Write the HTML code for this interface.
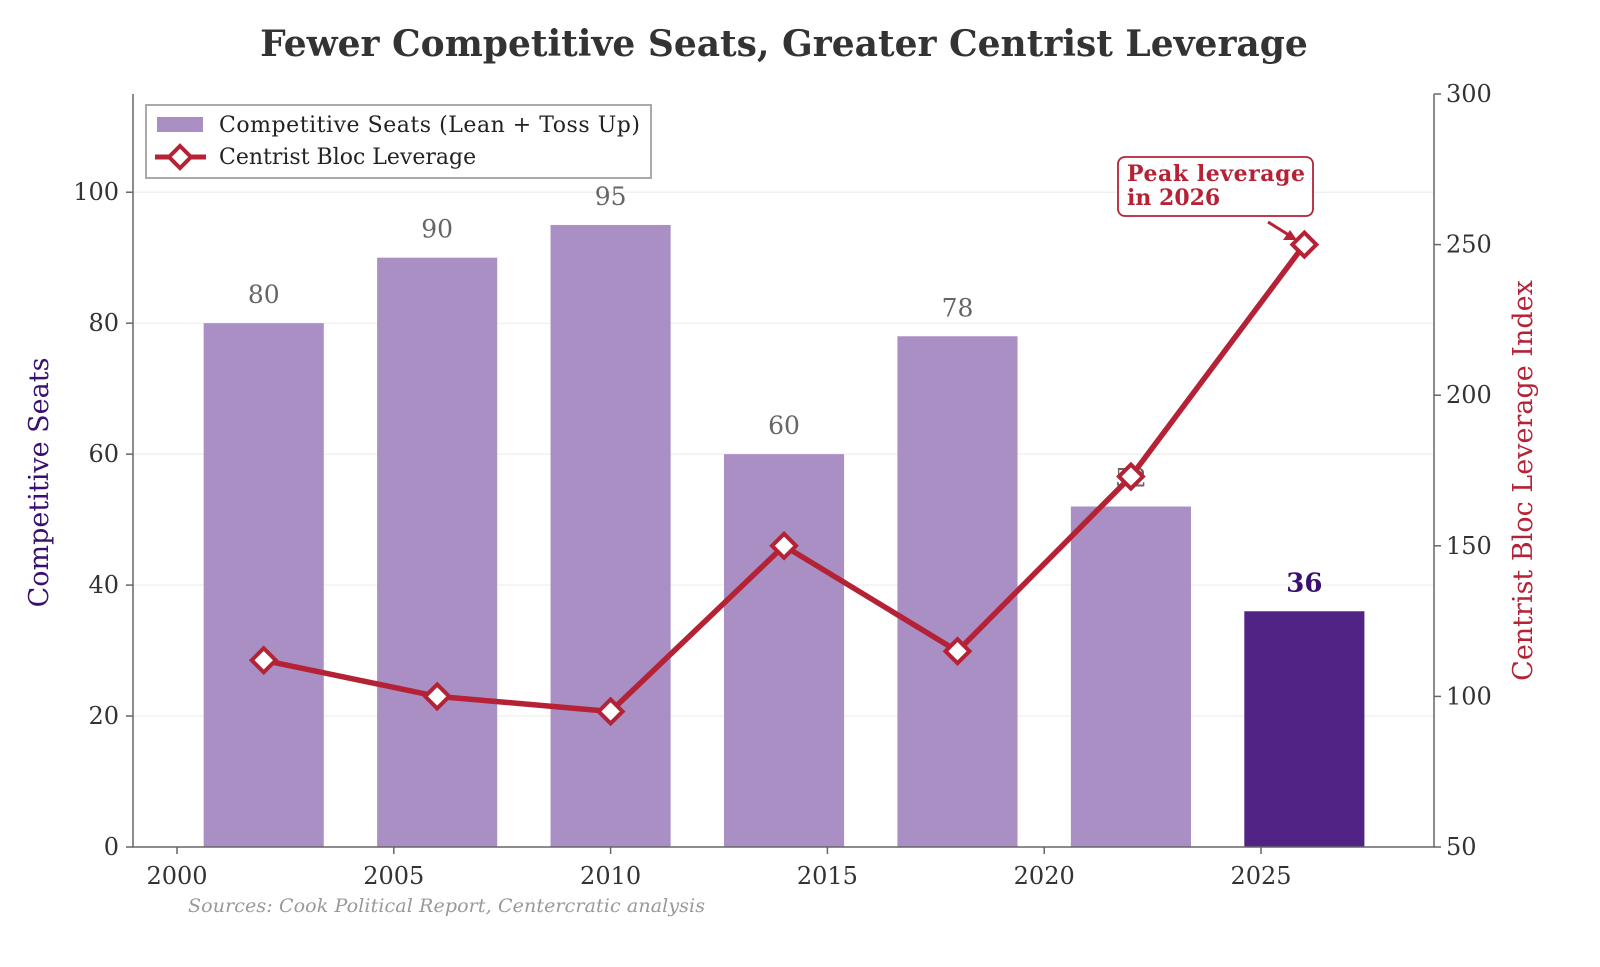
<!DOCTYPE html>
<html><head><meta charset="utf-8"><style>
body{margin:0;background:#fff}
svg{font-family:"DejaVu Serif","Liberation Serif",serif}
</style></head><body>
<svg id="c" width="1600" height="962" viewBox="0 0 1600 962" xmlns="http://www.w3.org/2000/svg"></svg>
<script>
const years=[2002,2006,2010,2014,2018,2022,2026];
const seats=[80,90,95,60,78,52,36];
const leverage=[112,100,95,150,115,173,250];
const xTicks=[2000,2005,2010,2015,2020,2025];
const yTicks=[0,20,40,60,80,100];
const y2Ticks=[50,100,150,200,250,300];

const L=133,R=1434,T=94,B=847;
const x=v=>177+(v-2000)*(1261-177)/25;
const y=v=>B-v*(B-T)/115;
const y2=v=>B-(v-50)*(B-T)/250;
const svg=document.getElementById('c');
const NS='http://www.w3.org/2000/svg';
function mk(tag,at,parent){const e=document.createElementNS(NS,tag);for(const k in at)e.setAttribute(k,at[k]);(parent||svg).appendChild(e);return e;}
function tx(s,at){const e=mk('text',at);e.textContent=s;return e;}

let t=tx('Fewer Competitive Seats, Greater Centrist Leverage',{x:784,y:56,'text-anchor':'middle','font-size':36,'font-weight':'bold',fill:'#333'});


yTicks.forEach(v=>{if(v>0){const g=mk('line',{x1:L,x2:R,y1:y(v),y2:y(v),stroke:'#eee','stroke-width':1.2});
}});

const bw=(x(2002)-x(2000))*1.385;
years.forEach((yr,i)=>{
 const last=i===years.length-1;
 const r=mk('rect',{x:x(yr)-bw/2,y:y(seats[i]),width:bw,height:B-y(seats[i]),fill:last?'#512385':'#a98fc4'});
 
 
 const lb=tx(String(seats[i]),{x:x(yr),y:y(seats[i])-20,'text-anchor':'middle','font-size':last?26:25,'font-weight':last?'bold':'normal',fill:last?'#3a0f72':'#666'});
 
 
});

const pts=years.map((yr,i)=>x(yr)+','+y2(leverage[i])).join(' ');
const pl=mk('polyline',{points:pts,fill:'none',stroke:'#b52236','stroke-width':5.5,'stroke-linejoin':'round'});


years.forEach((yr,i)=>{
 const cx=x(yr),cy=y2(leverage[i]),s=12;
 const m=mk('polygon',{points:`${cx},${cy-s} ${cx+s},${cy} ${cx},${cy+s} ${cx-s},${cy}`,fill:'#fff',stroke:'#b52236','stroke-width':4});
 
 
});

const ax=mk('path',{d:`M${L},${T} V${B} H${R} V${T}`,fill:'none',stroke:'#666','stroke-width':1.5});

xTicks.forEach(v=>{mk('line',{x1:x(v),x2:x(v),y1:B,y2:B+7,stroke:'#666','stroke-width':1.5});
 const e=tx(String(v),{x:x(v),y:B+37,'text-anchor':'middle','font-size':24,fill:'#333'});
 });
yTicks.forEach(v=>{mk('line',{x1:L-7,x2:L,y1:y(v),y2:y(v),stroke:'#666','stroke-width':1.5});
 const e=tx(String(v),{x:L-14,y:y(v)+8,'text-anchor':'end','font-size':24,fill:'#333'});
 });
y2Ticks.forEach(v=>{mk('line',{x1:R,x2:R+7,y1:y2(v),y2:y2(v),stroke:'#666','stroke-width':1.5});
 const e=tx(String(v),{x:R+12,y:y2(v)+8,'font-size':24,fill:'#333'});
 });

t=tx('Competitive Seats',{x:0,y:0,transform:`translate(48,${(T+B)/2+12}) rotate(-90)`,'text-anchor':'middle','font-size':27,fill:'#3a0f72'});

t=tx('Centrist Bloc Leverage Index',{x:0,y:0,transform:`translate(1532,${(T+B)/2+10}) rotate(-90)`,'text-anchor':'middle','font-size':27,fill:'#b52236'});


const lg=mk('g',{});

mk('rect',{x:146,y:105,width:505,height:73,fill:'#fff',stroke:'#aaa','stroke-width':2},lg);
mk('rect',{x:157,y:117,width:46,height:15,fill:'#a98fc4'},lg);
let e=tx('Competitive Seats (Lean + Toss Up)',{x:219,y:132,'font-size':22,fill:'#222','textLength':421},);lg.appendChild(e);
mk('line',{x1:155,x2:206,y1:157,y2:157,stroke:'#b52236','stroke-width':5},lg);
mk('polygon',{points:'180,146 191,157 180,168 169,157',fill:'#fff',stroke:'#b52236','stroke-width':4},lg);
e=tx('Centrist Bloc Leverage',{x:219,y:164,'font-size':22,fill:'#222'});lg.appendChild(e);

const an=mk('g',{});

mk('rect',{x:1118,y:157,width:195,height:59,rx:7,fill:'#fff',stroke:'#b52236','stroke-width':1.8},an);
e=tx('Peak leverage',{x:1127,y:181,'font-size':22,'font-weight':'bold',fill:'#b52236','textLength':178});an.appendChild(e);
e=tx('in 2026',{x:1127,y:205,'font-size':22,'font-weight':'bold',fill:'#b52236'});an.appendChild(e);
mk('line',{x1:1268,y1:222,x2:1292,y2:237,stroke:'#b52236','stroke-width':3},an);
mk('polygon',{points:'1297,240 1283,240 1290,230',fill:'#b52236'},an);

t=tx('Sources: Cook Political Report, Centercratic analysis',{x:188,y:912,'font-size':19,'font-style':'italic',fill:'#999','textLength':517});

</script>
</body></html>
